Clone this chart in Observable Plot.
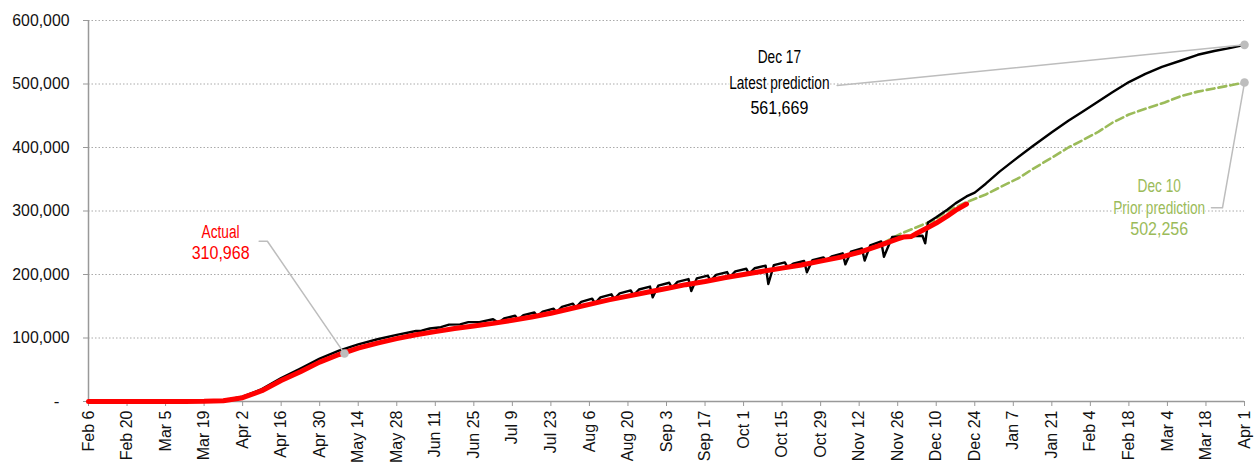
<!DOCTYPE html>
<html>
<head>
<meta charset="utf-8">
<script src="https://cdn.jsdelivr.net/npm/d3@7"></script>
<script src="https://cdn.jsdelivr.net/npm/@observablehq/plot@0.6"></script>
<style>
  html, body { margin: 0; padding: 0; background: #fff; }
  svg { display: block; }
</style>
</head>
<body>
<script>
// ---------- data ----------
const tickDates = ["2020-02-06","2020-02-20","2020-03-05","2020-03-19","2020-04-02","2020-04-16","2020-04-30","2020-05-14","2020-05-28","2020-06-11","2020-06-25","2020-07-09","2020-07-23","2020-08-06","2020-08-20","2020-09-03","2020-09-17","2020-10-01","2020-10-15","2020-10-29","2020-11-12","2020-11-26","2020-12-10","2020-12-24","2021-01-07","2021-01-21","2021-02-04","2021-02-18","2021-03-04","2021-03-18","2021-04-01"];
const yTicks = [0, 100000, 200000, 300000, 400000, 500000, 600000];

const actual = [
["2020-02-06",0],["2020-03-12",0],["2020-03-19",200],["2020-03-26",1200],["2020-04-02",6000],["2020-04-09",17000],["2020-04-16",33000],["2020-04-23",47000],["2020-04-30",62000],["2020-05-07",74000],["2020-05-14",84000],["2020-05-21",92000],["2020-05-28",99000],["2020-06-04",105000],["2020-06-11",110000],["2020-06-18",115000],["2020-06-25",119000],["2020-07-02",123000],["2020-07-09",128000],["2020-07-16",133000],["2020-07-23",139000],["2020-07-30",146000],["2020-08-06",153000],["2020-08-13",160000],["2020-08-20",166000],["2020-08-27",172000],["2020-09-03",178000],["2020-09-10",184000],["2020-09-17",189000],["2020-09-24",195000],["2020-10-01",200000],["2020-10-08",205000],["2020-10-15",210000],["2020-10-22",215000],["2020-10-29",221000],["2020-11-05",227000],["2020-11-12",235000],["2020-11-19",245000],["2020-11-26",256000],["2020-11-28",259000],["2020-12-01",260000],["2020-12-03",265000],["2020-12-07",274000],["2020-12-10",281000],["2020-12-14",292000],["2020-12-17",301000],["2020-12-21",310968]
];

const latestPrediction = [
["2020-02-06",0],["2020-03-12",0],["2020-03-19",300],["2020-03-26",1500],["2020-04-02",7500],["2020-04-09",19500],["2020-04-16",37000],["2020-04-23",52000],["2020-04-30",67500],["2020-05-07",80000],["2020-05-14",90000],["2020-05-21",98000],["2020-05-28",105000],["2020-06-04",111000],
["2020-06-06",111500],["2020-06-09",115000],["2020-06-13",117000],["2020-06-16",121000],["2020-06-20",121500],["2020-06-23",125000],["2020-06-27",125000],["2020-07-02",129500],
["2020-07-04",124000],["2020-07-06",130800],["2020-07-10",135000],
["2020-07-11",129000],["2020-07-13",135900],["2020-07-17",140200],
["2020-07-18",134300],["2020-07-20",141500],["2020-07-24",146200],
["2020-07-25",140500],["2020-07-27",149000],["2020-07-31",154000],
["2020-08-01",147500],["2020-08-03",157000],["2020-08-07",162000],
["2020-08-08",154500],["2020-08-10",163900],["2020-08-14",168800],
["2020-08-15",161200],["2020-08-17",170400],["2020-08-21",175000],
["2020-08-22",167200],["2020-08-24",176400],["2020-08-28",181000],
["2020-08-29",164000],["2020-08-31",182400],["2020-09-04",187000],
["2020-09-05",179200],["2020-09-07",188300],["2020-09-11",192800],
["2020-09-12",174000],["2020-09-14",193900],["2020-09-18",198200],
["2020-09-19",190200],["2020-09-21",199300],["2020-09-25",203800],
["2020-09-26",196000],["2020-09-28",204800],["2020-10-02",209000],
["2020-10-03",201000],["2020-10-05",209800],["2020-10-09",214000],
["2020-10-10",185000],["2020-10-12",214800],["2020-10-16",219000],
["2020-10-17",211000],["2020-10-19",216900],["2020-10-23",221200],
["2020-10-24",203600],["2020-10-26",222400],["2020-10-30",227000],
["2020-10-31",222000],["2020-11-02",228600],["2020-11-06",233400],
["2020-11-07",216000],["2020-11-09",235800],["2020-11-13",241000],
["2020-11-14",222000],["2020-11-16",245800],["2020-11-20",252000],
["2020-11-21",228000],["2020-11-24",259000],["2020-11-28",260000],["2020-12-01",260500],["2020-12-05",261000],
["2020-12-06",249000],["2020-12-07",282000],["2020-12-10",290000],["2020-12-14",302000],["2020-12-17",312000],["2020-12-21",323000],["2020-12-24",329000],
["2020-12-28",343000],["2021-01-02",362000],["2021-01-07",379000],["2021-01-14",402000],["2021-01-21",424000],["2021-01-27",442000],["2021-02-01",456000],["2021-02-07",473000],["2021-02-12",487000],["2021-02-18",503000],["2021-02-24",516000],["2021-03-02",527000],["2021-03-09",537000],["2021-03-15",546000],["2021-03-21",552000],["2021-03-27",557000],["2021-04-01",561669]
];

const priorPrediction = [
["2020-02-06",0],["2020-03-12",0],["2020-03-19",200],["2020-03-26",1200],["2020-04-02",6000],["2020-04-09",17000],["2020-04-16",33000],["2020-04-23",47000],["2020-04-30",62000],["2020-05-14",84000],["2020-05-28",99500],["2020-06-11",110500],["2020-06-25",119500],["2020-07-09",128500],["2020-07-23",139500],["2020-08-06",153500],["2020-08-20",166500],["2020-09-03",178500],["2020-09-17",189500],["2020-10-01",200500],["2020-10-15",210500],["2020-10-29",221500],["2020-11-12",235000],["2020-11-19",246000],["2020-11-27",264000],["2020-12-06",280000],["2020-12-09",285000],["2020-12-14",300000],["2020-12-21",314000],["2020-12-28",326000],["2021-01-02",337000],["2021-01-09",352000],["2021-01-14",366000],["2021-01-21",384000],["2021-01-27",400000],["2021-02-01",411000],["2021-02-07",425000],["2021-02-12",439000],["2021-02-18",452000],["2021-02-24",461000],["2021-03-03",471000],["2021-03-09",481000],["2021-03-15",488000],["2021-03-21",493000],["2021-03-27",498000],["2021-04-01",502256]
];

// annotations (data coordinates)
const markerDots = [["2020-05-09",75500],["2021-04-01",561669],["2021-04-01",502256]];
const actualLeader = [["2020-04-08",252400],["2020-04-11",252400],["2020-05-09",75500]];
const latestLeader = [["2020-11-04",497600],["2021-04-01",561669]];
const priorLeader = [["2021-03-20",305000],["2021-03-24",305000],["2021-04-01",502256]];
const actualLabel = {anchor: ["2020-03-25",250000], lines: ["Actual", "310,968"]};
const latestLabel = {anchor: ["2020-10-14",500800], lines: ["Dec 17", "Latest prediction", "561,669"]};
const priorLabel = {anchor: ["2021-03-01",305000], lines: ["Dec 10", "Prior prediction", "502,256"]};

// ---------- build ----------
const parse = d3.utcParse("%Y-%m-%d");
const rows = arr => arr.map(([d, v]) => ({date: parse(d), value: v}));
const sans = "'Liberation Sans', Arial, sans-serif";
const grey = "#bdbdbd";

function labelMarks(label, dys, color) {
  const [d, v] = label.anchor;
  return label.lines.map((line, i) => Plot.text([{date: parse(d), value: v, text: line}], {
    x: "date", y: "value", text: "text", dy: dys[i], fill: color,
    fontSize: 18, fontFamily: sans, stroke: "white", strokeWidth: 3
  }));
}

const chart = Plot.plot({
  width: 1258,
  height: 468,
  marginLeft: 88,
  marginRight: 14,
  marginTop: 20,
  marginBottom: 67,
  x: {type: "utc", domain: [parse(tickDates[0]), parse(tickDates[tickDates.length - 1])]},
  y: {domain: [0, 600000]},
  marks: [
    Plot.gridY(yTicks.filter(d => d > 0), {stroke: "#aaa", strokeOpacity: 1, strokeDasharray: "1.5,2"}),
    Plot.ruleX([parse(tickDates[0])], {stroke: "#999", strokeWidth: 1.5}),
    Plot.ruleY([0], {stroke: "#999", strokeWidth: 1.5}),
    Plot.axisY({ticks: yTicks, tickSize: 5, tickPadding: 14, stroke: "#999", fill: "#111", label: null,
      tickFormat: d => d === 0 ? "" : d3.format(",")(d), fontSize: 17, fontFamily: sans}),
    Plot.axisY({ticks: [0], tickSize: 0, tickPadding: 29, fill: "#111", label: null,
      tickFormat: () => "-", fontSize: 17, fontFamily: sans}),
    Plot.axisX({ticks: tickDates.map(parse), tickFormat: d3.utcFormat("%b %-d"), tickRotate: -90, label: null,
      tickSize: 5, tickPadding: 4, stroke: "#999", fill: "#111", fontSize: 16, fontFamily: sans}),
    Plot.line(rows(priorPrediction), {x: "date", y: "value", stroke: "#9bbb59", strokeWidth: 2.6, strokeDasharray: "8,4"}),
    Plot.line(rows(latestPrediction), {x: "date", y: "value", stroke: "#000", strokeWidth: 2.4}),
    Plot.line(rows(actual), {x: "date", y: "value", stroke: "#ff0000", strokeWidth: 5, strokeLinejoin: "round", strokeLinecap: "round"}),
    Plot.line(rows(actualLeader), {x: "date", y: "value", stroke: grey, strokeWidth: 1.5}),
    Plot.line(rows(latestLeader), {x: "date", y: "value", stroke: grey, strokeWidth: 1.5}),
    Plot.line(rows(priorLeader), {x: "date", y: "value", stroke: grey, strokeWidth: 1.5}),
    Plot.dot(rows(markerDots), {x: "date", y: "value", r: 4.3, fill: grey}),
    ...labelMarks(actualLabel, [-10.5, 10.5], "#ff0000"),
    ...labelMarks(latestLabel, [-26, 0, 24.5], "#000"),
    ...labelMarks(priorLabel, [-21.5, 0, 21], "#9bbb59")
  ]
});

document.body.appendChild(chart);

// condense the annotation and y-axis typefaces, as in the reference's narrow face
d3.select(chart).selectAll('g[aria-label="text"] text, g[aria-label="y-axis tick label"] text')
  .each(function () {
    const t = this.textContent;
    if (!t || t === "-") return;
    const len = this.getComputedTextLength();
    const inAxis = this.parentNode.getAttribute("aria-label") === "y-axis tick label";
    const k = /^[\d,]+$/.test(t) ? (inAxis ? 0.93 : 0.89) : 0.76;
    this.setAttribute("textLength", (len * k).toFixed(1));
    this.setAttribute("lengthAdjust", "spacingAndGlyphs");
  });
</script>
</body>
</html>
